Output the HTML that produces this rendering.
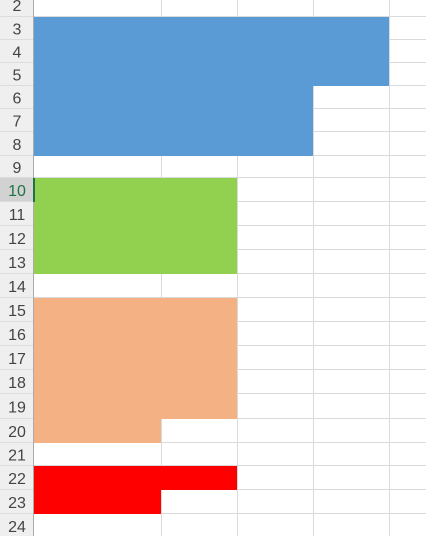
<!DOCTYPE html>
<html><head><style>
body{margin:0;width:426px;height:536px;overflow:hidden;background:#fff;font-family:"Liberation Sans",sans-serif;}
</style></head><body>
<svg id="s" width="426" height="536"></svg>
<script>
const rowNums=[2,3,4,5,6,7,8,9,10,11,12,13,14,15,16,17,18,19,20,21,22,23,24];
const rowTops=[-7,17,40,63,86,109,132,156,178,202,226,250,274,298,322,346,370,394,419,443,466,490,514,538];
const fillCols=[0,4,4,4,3,3,3,0,2,2,2,2,0,2,2,2,2,2,1,0,2,1,0];
const fillColors=["","#5b9bd5","#5b9bd5","#5b9bd5","#5b9bd5","#5b9bd5","#5b9bd5","","#92d050","#92d050","#92d050","#92d050","","#f4b183","#f4b183","#f4b183","#f4b183","#f4b183","#f4b183","","#ff0000","#ff0000",""];
const colEdges=[33,161,237,313,389,465];
const s=document.getElementById('s');const NS='http://www.w3.org/2000/svg';
function el(t,a){const e=document.createElementNS(NS,t);for(const k in a)e.setAttribute(k,a[k]);s.appendChild(e);return e;}
// gridlines
for(let i=1;i<colEdges.length;i++){const l=el('line',{x1:colEdges[i]+0.5,x2:colEdges[i]+0.5,y1:0,y2:536,stroke:'#dadada'});

}
for(let i=1;i<rowTops.length;i++){const l=el('line',{x1:33,x2:426,y1:rowTops[i]-0.5,y2:rowTops[i]-0.5,stroke:'#dadada'});

}
// fills
rowNums.forEach((r,i)=>{if(fillCols[i]>0){const c=el('rect',{x:34,y:rowTops[i],width:colEdges[fillCols[i]]-34,height:rowTops[i+1]-rowTops[i],fill:fillColors[i]});

}});
// header column
const h=el('rect',{x:0,y:0,width:33,height:536,fill:'#efefef'});


rowNums.forEach((r,i)=>{const top=Math.max(rowTops[i],0),bot=rowTops[i+1];
if(r===10){const b=el('rect',{x:0,y:top,width:33,height:bot-top,fill:'#d2d2d2'});}
const l=el('line',{x1:0,x2:33,y1:bot-0.5,y2:bot-0.5,stroke:'#dcdcdc'});


const t=el('text',{x:17,y:(rowTops[i]+bot)/2+6,'text-anchor':'middle','font-size':'16',fill:r===10?'#217346':'#444'});
t.textContent=r;

});
const bl=el('line',{x1:33.5,x2:33.5,y1:0,y2:536,stroke:'#ababab'});


const sel=el('rect',{x:33,y:178,width:2,height:24,fill:'#217346'});


</script>
</body></html>
